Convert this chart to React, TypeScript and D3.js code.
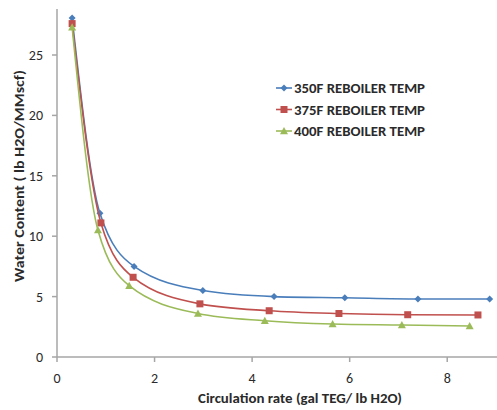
import React from "react";
import * as d3 from "d3";

const seriesNames = ["350F REBOILER TEMP", "375F REBOILER TEMP", "400F REBOILER TEMP"];
const seriesColors = ["#4a7ebb", "#c0504d", "#9bbb59"];
const seriesMarkers = ["diamond", "square", "triangle"];
const x350 = [0.31, 0.88, 1.58, 2.99, 4.45, 5.9, 7.4, 8.87];
const y350 = [28.06, 11.9, 7.5, 5.5, 5.0, 4.9, 4.8, 4.8];
const x375 = [0.31, 0.9, 1.56, 2.93, 4.35, 5.78, 7.19, 8.63];
const y375 = [27.6, 11.1, 6.6, 4.4, 3.83, 3.6, 3.5, 3.48];
const x400 = [0.31, 0.84, 1.48, 2.89, 4.26, 5.65, 7.07, 8.46];
const y400 = [27.3, 10.5, 5.9, 3.6, 3.0, 2.73, 2.65, 2.57];
const xTicks = [0, 2, 4, 6, 8];
const yTicks = [0, 5, 10, 15, 20, 25];

const W = 497, H = 410;
const ml = 57, mr = 497, mt = 9, mb = 357;

export default function App() {
  const x = d3.scaleLinear().domain([0, 9]).range([ml, 496]);
  const y = d3.scaleLinear().domain([0, 25]).range([mb, 55]);
  const xs = [x350, x375, x400];
  const ys = [y350, y375, y400];
  const line = d3.line<[number, number]>().x(d => x(d[0])).y(d => y(d[1])).curve(d3.curveMonotoneX);
  const font = "Calibri, Carlito, 'Liberation Sans', Arial, sans-serif";
  const tc = "#2a2a2a";

  const marker = (kind: string, cx: number, cy: number, color: string, key: string) => {
    if (kind === "diamond") {
      const s = 3.5;
      return <path key={key} d={`M${cx},${cy - s}L${cx + s},${cy}L${cx},${cy + s}L${cx - s},${cy}Z`} fill={color} />;
    }
    if (kind === "square") {
      return <rect key={key} x={cx - 3.5} y={cy - 3.5} width={7} height={7} fill={color} />;
    }
    const s = 4;
    return <path key={key} d={`M${cx},${cy - s}L${cx + s},${cy + s * 0.8}L${cx - s},${cy + s * 0.8}Z`} fill={color} />;
  };

  return (
    <svg width={W} height={H} style={{ position: "absolute", left: 0, top: 0, background: "#fff" }}>
      {/* axes */}
      <line x1={ml} y1={mt} x2={ml} y2={mb} stroke="#a6a6a6" strokeWidth={1.5} />
      <line x1={ml} y1={mb} x2={mr} y2={mb} stroke="#a6a6a6" strokeWidth={1.5} />
      {yTicks.map(t => (
        <g key={"y" + t}>
          <line x1={ml - 5} x2={ml} y1={y(t)} y2={y(t)} stroke="#a6a6a6" strokeWidth={1.5} />
          <text x={43} y={y(t) + 5} textAnchor="end" fontSize={14} fontFamily={font} fill={tc}>{t}</text>
        </g>
      ))}
      {xTicks.map(t => (
        <g key={"x" + t}>
          <line x1={x(t)} x2={x(t)} y1={mb} y2={mb + 5} stroke="#a6a6a6" strokeWidth={1.5} />
          <text x={x(t)} y={mb + 26} textAnchor="middle" fontSize={14} fontFamily={font} fill={tc}>{t}</text>
        </g>
      ))}
      <text x={300} y={403} textAnchor="middle" fontSize={14} fontWeight="bold" fontFamily={font} fill={tc}
        textLength={204} lengthAdjust="spacingAndGlyphs">Circulation rate (gal TEG/ lb H2O)</text>
      <text transform="translate(24,176) rotate(-90)" textAnchor="middle" fontSize={13.5} fontWeight="bold" fontFamily={font} fill={tc}
        textLength={212} lengthAdjust="spacingAndGlyphs">Water Content  ( lb H2O/MMscf)</text>
      {/* series */}
      {xs.map((xa, i) => {
        const pts: [number, number][] = xa.map((v, j) => [v, ys[i][j]]);
        return (
          <g key={"s" + i}>
            <path d={line(pts) || ""} fill="none" stroke={seriesColors[i]} strokeWidth={1.6} />
            {pts.map((p, j) => marker(seriesMarkers[i], x(p[0]), y(p[1]), seriesColors[i], `m${i}-${j}`))}
          </g>
        );
      })}
      {/* legend */}
      {seriesNames.map((n, i) => {
        const ly = 88 + i * 21.5;
        return (
          <g key={"l" + i}>
            <line x1={276} x2={292} y1={ly} y2={ly} stroke={seriesColors[i]} strokeWidth={1.6} />
            {marker(seriesMarkers[i], 284, ly, seriesColors[i], "lm" + i)}
            <text x={294} y={ly + 5} fontSize={14} fontWeight="bold" fontFamily={font} fill={tc}
              textLength={131} lengthAdjust="spacingAndGlyphs">{n}</text>
          </g>
        );
      })}
    </svg>
  );
}
